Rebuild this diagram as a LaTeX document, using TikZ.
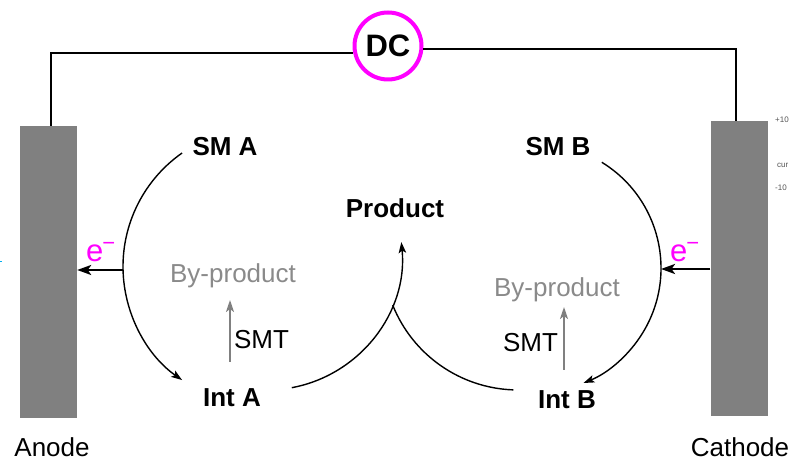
\documentclass[tikz,border=0pt]{standalone}
\usepackage{fontspec}
\setmainfont{Liberation Sans}
\usetikzlibrary{arrows.meta}
\definecolor{mag}{HTML}{FF00FF}
\definecolor{elec}{HTML}{808080}
\definecolor{byp}{HTML}{8A8A8A}
\definecolor{smallgray}{HTML}{555555}
\begin{document}
\begin{tikzpicture}[x=1pt,y=1pt,
  lbl/.style={inner sep=0pt, anchor=base, font=\fontsize{26}{30}\selectfont},
  bold/.style={inner sep=0pt, anchor=base, font=\fontsize{26}{30}\selectfont\bfseries},
  bylbl/.style={lbl, text=byp},
  elbl/.style={inner sep=0pt, anchor=base west, text=mag, font=\fontsize{31}{34}\selectfont},
  tiny/.style={inner sep=0pt, anchor=base west, text=smallgray, font=\fontsize{8}{9}\selectfont},
  electrode/.style={rectangle, fill=elec, draw=none, minimum width=57pt},
  wire/.style={line width=2.2pt},
  arcline/.style={line width=1.4pt},
  tip/.style={-{Stealth[length=11pt,width=7.5pt,inset=2.5pt]}},
  etip/.style={line width=2.4pt,-{Stealth[length=14pt,width=10pt,inset=3.5pt]}},
  smtarrow/.style={line width=2pt, draw=elec, -{Stealth[length=12pt,width=8pt,inset=3pt]}}
]
\useasboundingbox (0,0) rectangle (790,462);

% electrodes
\node[electrode, minimum height=292pt] (anode) at (48.5,190) {};
\node[electrode, minimum height=295pt] (cathode) at (739,193.5) {};

% power supply
\node[circle, draw=mag, line width=4pt, minimum size=67pt, inner sep=0pt,
      font=\fontsize{31}{34}\selectfont\bfseries] (dc) at (388,416) {DC};
\draw[wire] ([xshift=2.5pt]anode.north) |- (dc.191.4);
\draw[wire] ([xshift=-3pt]cathode.north) |- (dc.355.2);

% labels
\node[bold] (smA) at (225,306) {SM A};
\node[bold] (smB) at (558,306) {SM B};
\node[bold] (prod) at (395,244) {Product};
\node[bold] (intA) at (232,55) {Int A};
\node[bold] (intB) at (567,53) {Int B};
\node[bylbl] (byA) at (233,179) {By-product};
\node[bylbl] (byB) at (557,165) {By-product};
\node[lbl] (smtA) at (261.5,113) {SMT};
\node[lbl] (smtB) at (530.5,110) {SMT};
\node[lbl] (anlbl) at (52,5) {Anode};
\node[lbl] (catlbl) at (740,5) {Cathode};
\node[elbl] (eA) at (86,200) {e\kern-1pt\raisebox{11pt}{\fontsize{22}{22}\selectfont −}};
\node[elbl] (eB) at (670,200) {e\kern-1pt\raisebox{11pt}{\fontsize{22}{22}\selectfont −}};

% small side texts
\node[tiny] (p10) at (775,339) {+10};
\node[tiny] (cur) at (777,294) {cur};
\node[tiny] (m10) at (775,271) {-10};
\draw[cyan, line width=1pt] (0,200) -- (1.5,200);

% cycle A
\coordinate (a1s) at (182.1,309);
\draw[arcline, tip] (a1s) arc[start angle=125, end angle=235, radius=138.6];
% cycle B
\coordinate (b1s) at (601.8,299.7);
\draw[arcline, tip] (b1s) arc[start angle=58.5, end angle=-68, radius=124];
% Int A -> Product
\coordinate (c1s) at (291.8,74.3);
\draw[arcline, tip] (c1s) arc[start angle=-79.4, end angle=5.5, radius=135];
% Product branch -> Int B
\coordinate (d1s) at (392.7,156.9);
\draw[arcline] (d1s) arc[start angle=201.8, end angle=268, radius=135];

% electron flow
\coordinate (eLs) at (123,192);
\draw[etip] (eLs) -- (eLs -| anode.east);
\coordinate (eRe) at (661,193);
\draw[etip] (eRe -| cathode.west) -- (eRe);

% SMT arrows
\coordinate (sA) at (230,100);
\draw[smtarrow] (sA) -- ++(0,62);
\coordinate (sB) at (564,92);
\draw[smtarrow] (sB) -- ++(0,63);
\end{tikzpicture}
\end{document}
